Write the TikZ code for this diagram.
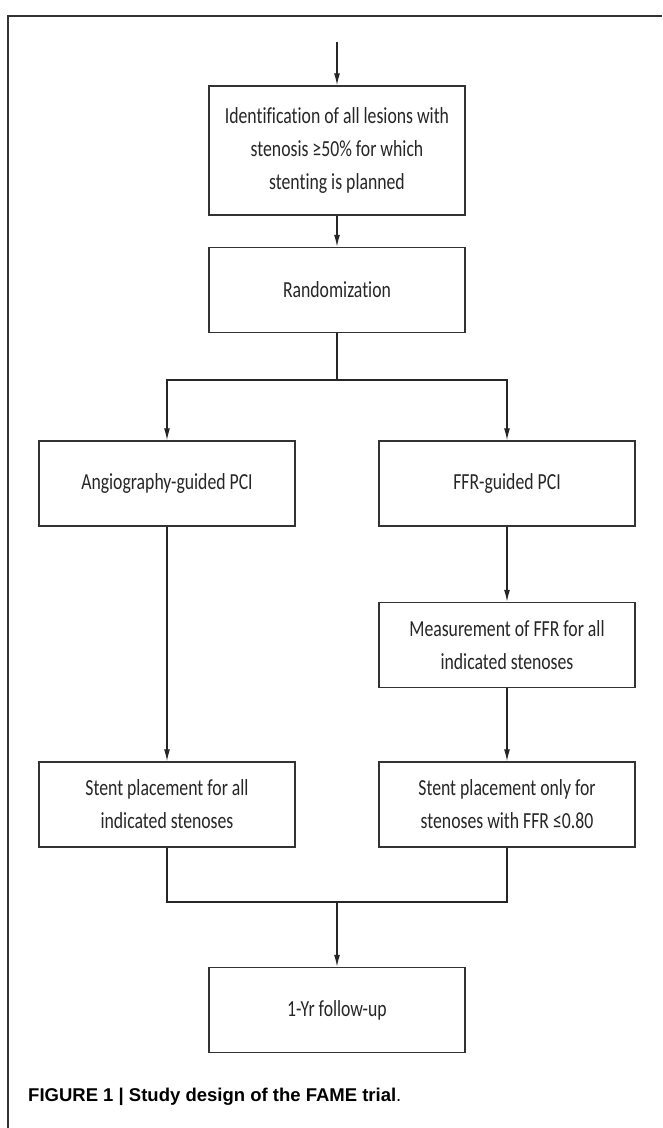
\documentclass[tikz,border=0pt]{standalone}
\usepackage{fontspec}
\usepackage{tikz}
\usetikzlibrary{arrows.meta}
\newfontfamily\boxfont[FakeStretch=0.77, Ligatures=NoCommon]{Carlito}
\newfontfamily\capfont{Liberation Sans}

\begin{document}
\begin{tikzpicture}[x=1pt, y=-1pt, >={Latex[length=12pt,width=6pt]},
  box/.style = {draw=black!80, line width=1.5pt, minimum width=256pt, minimum height=85pt, align=center, inner sep=0pt, font=\boxfont\fontsize{23}{33}\selectfont, text=black!85},
  link/.style = {draw=black!85, line width=1.2pt}]
	\useasboundingbox (0,0) rectangle (662,1128);
	% frame
	\draw[line width=1.2pt, black!80] (662,16) -- (8,16) -- (8,1128);
	\coordinate (in) at (337,42);
	\node[box, minimum height=129pt] (ident) at (337,150.5) {Identification of all lesions with\\stenosis ≥50\% for which\\stenting is planned};
	\node[box] (rand) at (337,290) {Randomization};
	\node[box] (angio) at (167,483.5) {Angiography-guided PCI};
	\node[box] (ffr) at (507,483.5) {FFR-guided PCI};
	\node[box] (meas) at (507,645) {Measurement of FFR for all\\indicated stenoses};
	\node[box] (stenta) at (167,804.5) {Stent placement for all\\indicated stenoses};
	\node[box] (stentf) at (507,804.5) {Stent placement only for\\stenoses with FFR ≤0.80};
	\node[box] (follow) at (337,1010) {1-Yr follow-up};
	\node[font=\capfont\fontsize{18.5}{22}\selectfont, anchor=west, inner sep=0pt] (cap) at (28,1097) {\textbf{FIGURE 1 | Study design of the FAME trial}.};
	\coordinate (split) at (337,380);
	\coordinate (merge) at (337,902);
	% connectors
	\draw[link, ->] (in) -- (ident);
	\draw[link, ->] (ident) -- (rand);
	\draw[link] (rand) -- (split);
	\draw[link, ->] (split) -| (angio);
	\draw[link, ->] (split) -| (ffr);
	\draw[link, ->] (angio) -- (stenta);
	\draw[link, ->] (ffr) -- (meas);
	\draw[link, ->] (meas) -- (stentf);
	\draw[link] (stenta) |- (merge);
	\draw[link] (stentf) |- (merge);
	\draw[link, ->] (merge) -- (follow);
\end{tikzpicture}
\end{document}
